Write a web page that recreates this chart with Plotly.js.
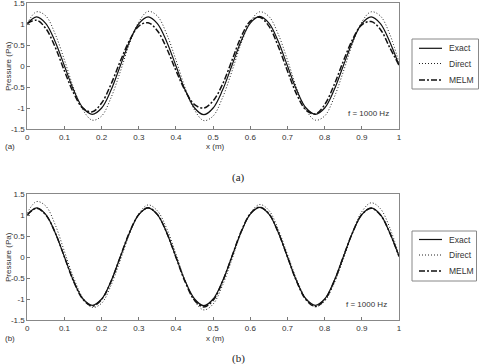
<!DOCTYPE html>
<html>
<head>
<meta charset="utf-8">
<script src="https://cdn.plot.ly/plotly-3.0.1.min.js"></script>
<style>html,body{margin:0;padding:0;background:#fff;}#chart{width:479px;height:364px;}</style>
</head>
<body>
<div id="chart"></div>
<script>
// sample positions along the duct (m)
const xPos = [0,0.025,0.05,0.075,0.1,0.125,0.15,0.175,0.2,0.225,0.25,0.275,0.3,0.325,0.35,0.375,0.4,0.425,0.45,0.475,0.5,0.525,0.55,0.575,0.6,0.625,0.65,0.675,0.7,0.725,0.75,0.775,0.8,0.825,0.85,0.875,0.9,0.925,0.95,0.975,1.0];

// panel (a)
const exactA = [1.01,1.17,1.01,0.58,0.00,-0.58,-1.00,-1.15,-1.00,-0.58,0.00,0.58,1.01,1.17,1.01,0.58,0.00,-0.58,-1.00,-1.16,-1.00,-0.58,0.00,0.59,1.02,1.18,1.02,0.59,0.00,-0.58,-1.00,-1.15,-1.00,-0.58,0.00,0.58,1.01,1.17,1.01,0.58,0.02];
const directA = [1.02,1.29,1.19,0.76,0.14,-0.53,-1.05,-1.29,-1.19,-0.76,-0.14,0.53,1.05,1.30,1.19,0.76,0.14,-0.53,-1.05,-1.30,-1.19,-0.76,-0.14,0.53,1.05,1.29,1.18,0.76,0.14,-0.53,-1.05,-1.29,-1.19,-0.76,-0.14,0.53,1.05,1.29,1.19,0.76,0.08];
const melmA = [1.01,1.09,0.89,0.45,-0.12,-0.65,-1.01,-1.09,-0.88,-0.44,0.11,0.61,0.95,1.03,0.84,0.42,-0.11,-0.59,-0.92,-1.00,-0.83,-0.44,0.12,0.69,1.07,1.16,0.95,0.47,-0.12,-0.68,-1.05,-1.14,-0.92,-0.46,0.11,0.63,0.98,1.06,0.87,0.44,0.02];

// panel (b)
const exactB = exactA;
const directB = [1.05,1.32,1.21,0.77,0.13,-0.50,-0.98,-1.20,-1.10,-0.68,-0.08,0.55,1.03,1.24,1.10,0.68,0.07,-0.57,-1.05,-1.26,-1.12,-0.68,-0.07,0.57,1.04,1.25,1.11,0.66,0.06,-0.54,-0.99,-1.18,-1.05,-0.64,-0.06,0.58,1.08,1.29,1.15,0.70,0.04];
const melmB = [1.00,1.16,1.00,0.58,0.00,-0.59,-1.01,-1.17,-1.01,-0.59,0.00,0.59,1.01,1.17,1.01,0.58,-0.01,-0.60,-1.03,-1.19,-1.03,-0.59,0.00,0.60,1.03,1.19,1.03,0.59,0.00,-0.59,-1.02,-1.18,-1.02,-0.59,0.00,0.58,1.01,1.16,1.00,0.58,0.01];

const seriesNames = ["Exact","Direct","MELM"];
const xTickVals = [0,0.1,0.2,0.3,0.4,0.5,0.6,0.7,0.8,0.9,1];
const xTickText = ["0","0.1","0.2","0.3","0.4","0.5","0.6","0.7","0.8","0.9","1"];
const yTickVals = [1.5,1,0.5,0,-0.5,-1,-1.5];
const yTickText = ["1.5","1","0.5","0","-0.5","-1","-1.5"];

const lineStyles = [
  {color:"#111", width:1.2, dash:"solid"},
  {color:"#222", width:1.0, dash:"1px,2px"},
  {color:"#111", width:1.5, dash:"6px,2px,2px,2px"}
];

function mk(y, i, xa, ya){
  return {x:xPos, y:y, type:"scatter", mode:"lines", name:seriesNames[i],
    xaxis:xa, yaxis:ya, showlegend:false,
    line:Object.assign({shape:"spline", smoothing:1}, lineStyles[i])};
}

const data = [
  mk(exactA,0,"x","y"), mk(directA,1,"x","y"), mk(melmA,2,"x","y"),
  mk(exactB,0,"x2","y2"), mk(directB,1,"x2","y2"), mk(melmB,2,"x2","y2")
];

const W=479, H=364;
const px = v => v/W, py = v => 1 - v/H;
const tickFont = {family:"Liberation Sans, Arial, sans-serif", size:8, color:"#333"};
function xax(anchor, d){
  return {domain:d, anchor:anchor, range:[0,1], tickvals:xTickVals, ticktext:xTickText,
    ticks:"inside", ticklen:3, tickcolor:"#777", showline:true, mirror:true, linecolor:"#888", linewidth:1,
    showgrid:false, zeroline:false, tickfont:tickFont, ticklabeloverflow:"allow"};
}
function yax(anchor, d){
  return {domain:d, anchor:anchor, range:[-1.5,1.5], tickvals:yTickVals, ticktext:yTickText,
    ticks:"inside", ticklen:3, tickcolor:"#777", showline:true, mirror:true, linecolor:"#888", linewidth:1,
    showgrid:false, zeroline:false, tickfont:tickFont, ticklabeloverflow:"allow"};
}

const smallFont = {family:"Liberation Sans, Arial, sans-serif", size:8, color:"#333"};
const legFont = {family:"Liberation Sans, Arial, sans-serif", size:8.5, color:"#333"};
const capFont = {family:"Liberation Serif, Times New Roman, serif", size:11, color:"#222"};
function ann(text, x, y, font, extra){
  return Object.assign({text:text, x:px(x), y:py(y), xref:"paper", yref:"paper", showarrow:false,
    font:font, xanchor:"center", yanchor:"middle"}, extra||{});
}

// custom legend boxes (styles only; names from seriesNames)
const shapes = [];
const annotations = [
  ann("Pressure (Pa)", 8, 66, smallFont, {textangle:-90}),
  ann("Pressure (Pa)", 8, 257, smallFont, {textangle:-90}),
  ann("x (m)", 215, 146, smallFont),
  ann("x (m)", 215, 338, smallFont),
  ann("(a)", 3, 146, smallFont, {xanchor:"left"}),
  ann("(b)", 3, 338, smallFont, {xanchor:"left"}),
  ann("f = 1000 Hz", 391, 113, smallFont, {xanchor:"right"}),
  ann("f = 1000 Hz", 389, 304, smallFont, {xanchor:"right"}),
  ann("(a)", 238, 177, capFont),
  ann("(b)", 238, 358, capFont)
];
function legendBox(x0, y0, x1, y1, rows, lx0, lx1, tx){
  shapes.push({type:"rect", xref:"paper", yref:"paper", x0:px(x0), x1:px(x1), y0:py(y1), y1:py(y0),
    line:{color:"#888", width:1}, fillcolor:"#fff", layer:"above"});
  rows.forEach((ry, i) => {
    shapes.push({type:"line", xref:"paper", yref:"paper", x0:px(lx0), x1:px(lx1), y0:py(ry), y1:py(ry),
      line:{color:lineStyles[i].color, width:lineStyles[i].width, dash:lineStyles[i].dash}, layer:"above"});
    annotations.push(ann(seriesNames[i], tx, ry, legFont, {xanchor:"left"}));
  });
}
legendBox(412, 39, 478.5, 89, [48.3, 63.5, 80], 419, 442, 447);
legendBox(412, 231, 476.5, 281, [239.5, 255, 271], 419, 442, 447);

const layout = {
  width:W, height:H, margin:{l:0,r:0,t:0,b:0}, paper_bgcolor:"#fff", plot_bgcolor:"#fff",
  xaxis: xax("y", [px(27.3), px(399)]),
  yaxis: yax("x", [py(129), py(3)]),
  xaxis2: xax("y2", [px(27.3), px(399)]),
  yaxis2: yax("x2", [py(320), py(194)]),
  showlegend:false,
  shapes: shapes,
  annotations: annotations
};

Plotly.newPlot("chart", data, layout, {staticPlot:true, displayModeBar:false});
</script>
</body>
</html>
